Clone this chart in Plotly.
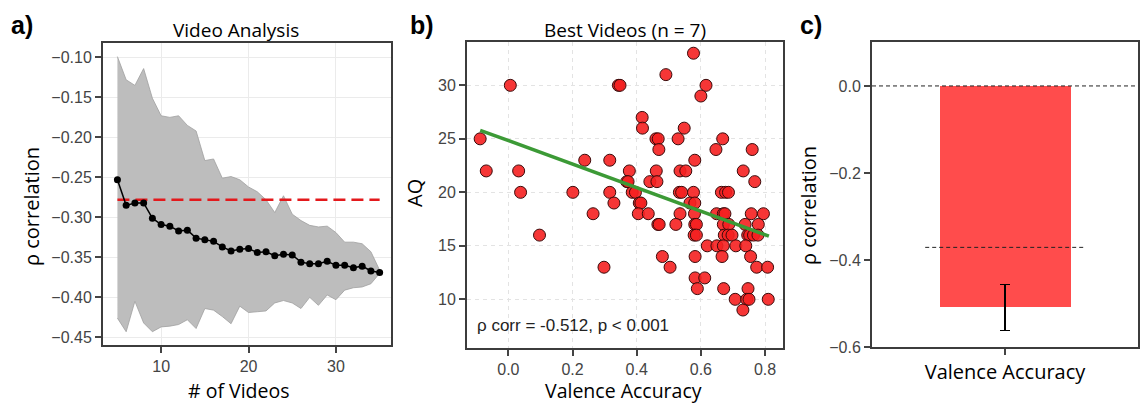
import plotly.graph_objects as go

# ---------------- Panel a data ----------------
n_videos = list(range(5, 36))
rho_mean = [-0.253, -0.285, -0.282, -0.282, -0.301, -0.309, -0.311, -0.317, -0.316, -0.326,
            -0.328, -0.330, -0.337, -0.342, -0.340, -0.339, -0.344, -0.343, -0.348, -0.346,
            -0.347, -0.356, -0.358, -0.358, -0.355, -0.360, -0.360, -0.363, -0.361, -0.367,
            -0.369]
band_upper = [-0.099, -0.128, -0.135, -0.114, -0.151, -0.173, -0.175, -0.173, -0.185, -0.192,
              -0.229, -0.227, -0.251, -0.249, -0.253, -0.262, -0.268, -0.278, -0.294, -0.273,
              -0.296, -0.304, -0.310, -0.312, -0.311, -0.319, -0.331, -0.331, -0.333, -0.343,
              -0.366]
band_lower = [-0.426, -0.443, -0.405, -0.432, -0.443, -0.437, -0.436, -0.434, -0.428, -0.439,
              -0.414, -0.416, -0.424, -0.433, -0.411, -0.419, -0.418, -0.417, -0.407, -0.404,
              -0.407, -0.414, -0.400, -0.410, -0.397, -0.403, -0.391, -0.388, -0.387, -0.383,
              -0.370]
baseline_rho = -0.278

# ---------------- Panel b data ----------------
aq_levels = [33, 31, 30, 29, 27, 26, 25, 24, 23, 22, 21, 20, 19, 18, 17, 16, 15, 14, 13, 12, 11, 10, 9]
valence_by_aq = [
    [0.577],
    [0.491],
    [0.006, 0.343, 0.348, 0.616],
    [0.600],
    [0.417],
    [0.418, 0.548],
    [-0.088, 0.460, 0.467, 0.529, 0.668],
    [0.469, 0.647, 0.760],
    [0.238, 0.316, 0.581],
    [-0.069, 0.032, 0.377, 0.461, 0.535, 0.553, 0.732],
    [0.369, 0.373, 0.441, 0.463, 0.768],
    [0.038, 0.201, 0.316, 0.386, 0.396, 0.533, 0.540, 0.577, 0.664, 0.677, 0.686],
    [0.329, 0.408, 0.413, 0.566, 0.581],
    [0.264, 0.405, 0.436, 0.535, 0.580, 0.649, 0.670, 0.675, 0.757, 0.795],
    [0.466, 0.470, 0.522, 0.581, 0.586, 0.670, 0.687, 0.738, 0.779],
    [0.097, 0.579, 0.586, 0.673, 0.685, 0.697, 0.746, 0.752, 0.764, 0.778],
    [0.620, 0.650, 0.670, 0.709, 0.740],
    [0.480, 0.582, 0.666, 0.755],
    [0.298, 0.504, 0.774, 0.808],
    [0.582, 0.612],
    [0.589, 0.671, 0.747],
    [0.707, 0.743, 0.750, 0.810],
    [0.731],
]
fit_x = [-0.088, 0.812]
fit_y = [25.8, 15.9]
corr_text = "ρ corr = -0.512, p < 0.001"

# ---------------- Panel c data ----------------
bar_category = ["Valence Accuracy"]
bar_value = [-0.509]
bar_err = [0.053]
ref_line_zero = 0.0
ref_line_mean = -0.371

valence = [v for row in valence_by_aq for v in row]
aq = [a for a, row in zip(aq_levels, valence_by_aq) for _ in row]

W, H = 1144, 403
def px(x):
    return x / W
def py(y):
    return 1 - y / H

fig = go.Figure()

# Panel a
fig.add_trace(go.Scatter(x=n_videos, y=band_upper, mode="lines",
                         line=dict(color="#a0a0a0", width=0.8), showlegend=False,
                         xaxis="x", yaxis="y", hoverinfo="skip"))
fig.add_trace(go.Scatter(x=n_videos, y=band_lower, mode="lines", fill="tonexty",
                         fillcolor="#bdbdbd", line=dict(color="#a0a0a0", width=0.8),
                         showlegend=False, xaxis="x", yaxis="y", hoverinfo="skip"))
fig.add_trace(go.Scatter(x=[n_videos[0], n_videos[-1]], y=[baseline_rho, baseline_rho],
                         mode="lines", line=dict(color="#e3191c", width=2.5, dash="12px,6px"),
                         showlegend=False, xaxis="x", yaxis="y"))
fig.add_trace(go.Scatter(x=n_videos, y=rho_mean, mode="lines+markers",
                         line=dict(color="black", width=1.5),
                         marker=dict(color="black", size=7), showlegend=False,
                         xaxis="x", yaxis="y"))

# Panel b
fig.add_trace(go.Scatter(x=valence, y=aq, mode="markers",
                         marker=dict(color="rgba(245,32,32,0.9)", size=12,
                                     line=dict(color="#3a0a0a", width=1)),
                         showlegend=False, xaxis="x2", yaxis="y2"))
fig.add_trace(go.Scatter(x=fit_x, y=fit_y, mode="lines",
                         line=dict(color="#3c9a36", width=3.5), showlegend=False,
                         xaxis="x2", yaxis="y2"))

# Panel c
fig.add_trace(go.Bar(x=[0], y=bar_value, width=0.985, marker=dict(color="#ff4c4c", line=dict(width=0)),
                     error_y=dict(type="data", array=bar_err, color="black", thickness=1.5, width=5),
                     showlegend=False, xaxis="x3", yaxis="y3"))
fig.add_trace(go.Scatter(x=[-1, 1], y=[ref_line_zero, ref_line_zero], mode="lines",
                         line=dict(color="#222222", width=1, dash="4px,3px"), showlegend=False,
                         xaxis="x3", yaxis="y3"))
fig.add_trace(go.Scatter(x=[-0.6, 0.6], y=[ref_line_mean, ref_line_mean], mode="lines",
                         line=dict(color="#222222", width=1, dash="4px,3px"), showlegend=False,
                         xaxis="x3", yaxis="y3"))

tickfont = dict(family="Liberation Sans, Arial", size=16, color="#444444")
frame = dict(showline=True, mirror=True, linecolor="#3c3c3c", linewidth=2,
             ticks="outside", ticklen=6, tickwidth=1.5, tickcolor="#444444",
             tickfont=tickfont, zeroline=False, automargin=False)

fig.update_layout(
    template="none",
    width=W, height=H,
    margin=dict(l=0, r=0, t=0, b=0),
    paper_bgcolor="white", plot_bgcolor="white",
    bargap=0, showlegend=False,
    xaxis=dict(domain=[px(103), px(391)], range=[3.35, 36.3], tickvals=[10, 20, 30],
               showgrid=True, gridcolor="#ebebeb", gridwidth=1, anchor="y", **frame),
    yaxis=dict(domain=[py(345), py(43)], range=[-0.4596, -0.082],
               tickvals=[-0.10, -0.15, -0.20, -0.25, -0.30, -0.35, -0.40, -0.45],
               ticktext=["−0.10", "−0.15", "−0.20", "−0.25", "−0.30", "−0.35", "−0.40", "−0.45"],
               showgrid=True, gridcolor="#ebebeb", gridwidth=1, anchor="x", **frame),
    xaxis2=dict(domain=[px(467), px(783)], range=[-0.129, 0.856],
                tickvals=[0.0, 0.2, 0.4, 0.6, 0.8], ticktext=["0.0", "0.2", "0.4", "0.6", "0.8"],
                showgrid=True, gridcolor="#e3e3e3", griddash="4px,4px", gridwidth=1,
                anchor="y2", **frame),
    yaxis2=dict(domain=[py(348), py(42)], range=[5.45, 34.05], tickvals=[10, 15, 20, 25, 30],
                showgrid=True, gridcolor="#e3e3e3", griddash="4px,4px", gridwidth=1,
                anchor="x2", **frame),
    xaxis3=dict(domain=[px(872), px(1138)], range=[-1, 1], tickvals=[0], ticktext=bar_category,
                showgrid=False, anchor="y3",
                **{**frame, "tickfont": dict(family="Open Sans, Noto Sans", size=20, color="black")}),
    yaxis3=dict(domain=[py(347), py(42)], range=[-0.6, 0.101], tickvals=[0.0, -0.2, -0.4, -0.6],
                ticktext=["0.0", "−0.2", "−0.4", "−0.6"], showgrid=False, anchor="x3", **frame),
)

fig.add_annotation(text=corr_text, xref="x2", yref="y2", x=-0.105, y=7.6,
                   xanchor="left", yanchor="middle", showarrow=False,
                   font=dict(family="Liberation Sans, Arial", size=17, color="#222222"))

title_font = dict(family="Open Sans, Noto Sans", size=19, color="black")
axis_font = dict(family="Open Sans, Noto Sans", size=20, color="black")
axis_font_b = dict(family="Open Sans, Noto Sans", size=19.5, color="black")

def label(text, x, y, font, angle=0):
    fig.add_annotation(text=text, xref="paper", yref="paper", x=px(x), y=py(y),
                       xanchor="center", yanchor="middle", showarrow=False, font=font,
                       textangle=angle)

label("Video Analysis", 236, 30, title_font)
label("Best Videos (n = 7)", 625, 30, title_font)
label("# of Videos", 238, 390, axis_font_b)
label("Valence Accuracy", 623, 390, axis_font_b)
label("ρ correlation", 31, 206, axis_font, -90)
label("AQ", 414, 193, axis_font, -90)
label("ρ correlation", 808, 206, axis_font, -90)

letter_font = dict(family="Liberation Sans, Arial", size=25, color="black")
for txt, xp in [("<b>a)</b>", 9), ("<b>b)</b>", 408), ("<b>c)</b>", 798)]:
    fig.add_annotation(text=txt, xref="paper", yref="paper", x=px(xp), y=py(25),
                       xanchor="left", yanchor="middle", showarrow=False, font=letter_font)

fig.write_html("out.html", config={"displayModeBar": False},
               post_script="document.body.style.margin='0';document.body.style.overflow='hidden';")
